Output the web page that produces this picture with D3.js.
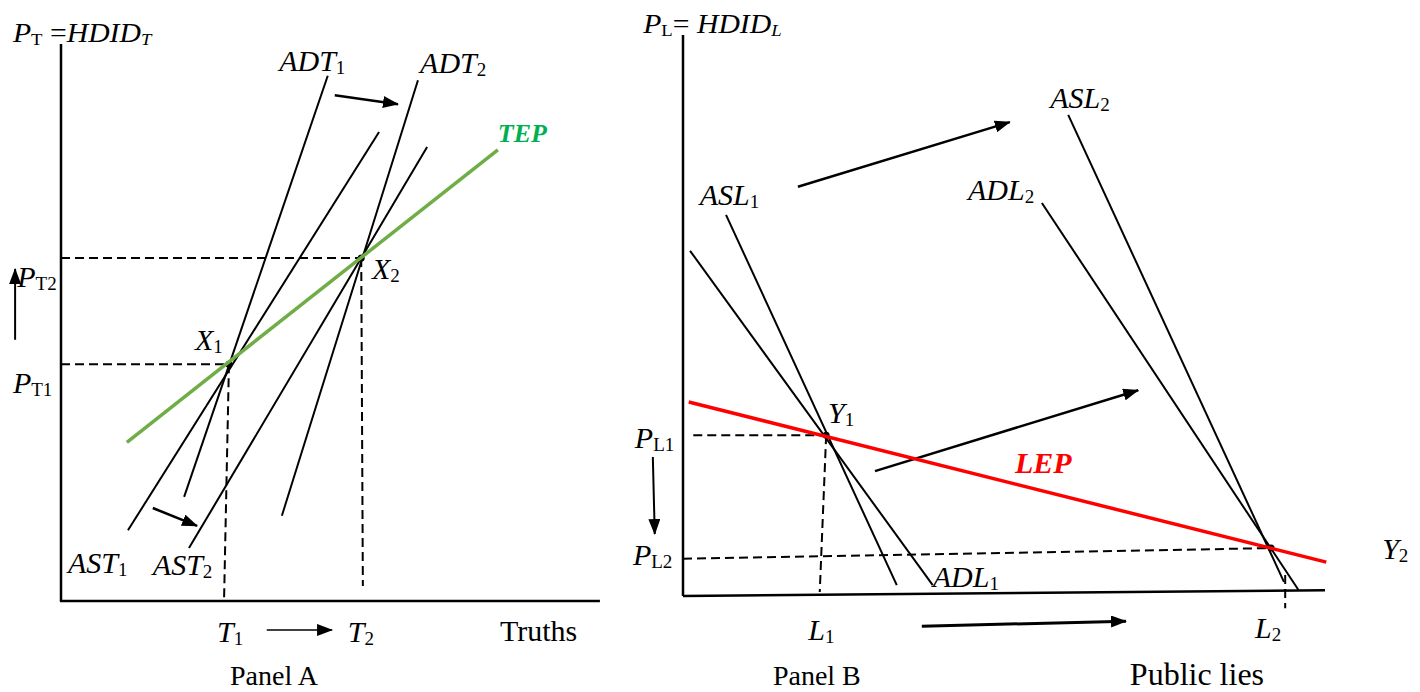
<!DOCTYPE html>
<html><head><meta charset="utf-8">
<script src="https://cdn.jsdelivr.net/npm/d3@7"></script>
<style>html,body{margin:0;padding:0;background:#fff;} svg{display:block;}</style>
</head><body>
<svg id="chart" width="1420" height="692"></svg>
<script>
// ---------------- DATA (abstract units, 0–100 on each panel's axes) ----------------
// Panel A — market for truths
const panelACurves = [
  {id:"ADT1", pts:[[49.4,94.3],[22.8,18.7]]},
  {id:"ADT2", pts:[[66.1,93.5],[40.9,15.3]]},
  {id:"AST1", pts:[[58.9,84.2],[12.4,12.7]]},
  {id:"AST2", pts:[[67.8,81.5],[23.7,9.5]]}
];
const panelATEP = [[12.2,28.5],[80.9,81.0]];
const panelAEquilibria = [{id:"X1", x:31.1, y:42.5}, {id:"X2", x:55.6, y:61.6}];
const panelAGuides = [
  [[0,61.6],[55.6,61.6]],
  [[0,42.5],[31.1,42.5]],
  [[31.1,42.5],[30.2,0.5]],
  [[55.6,61.6],[55.9,2.7]]
];
const panelAArrows = [
  {pts:[[50.7,90.8],[62.4,89.2]], w:2.5},
  {pts:[[17.0,16.7],[25.2,13.5]], w:2.5},
  {pts:[[-8.5,46.9],[-8.5,59.6]], w:2},
  {pts:[[38.1,-5.2],[50.2,-5.2]], w:1.5}
];
const panelALabels = [
  {parts:[["P","i"],["T","s"],[" =",""],["HDID","i"],["T","si"]], at:[-8.9,100.4], size:27, sx:1.1},
  {parts:[["ADT","i"],["1","s"]], at:[40.4,95.2]},
  {parts:[["ADT","i"],["2","s"]], at:[66.5,94.8]},
  {parts:[["X","i"],["1","s"]], at:[24.8,45.1]},
  {parts:[["X","i"],["2","s"]], at:[57.6,57.8]},
  {parts:[["P","i"],["T2","s"]], at:[-8.1,56.4]},
  {parts:[["P","i"],["T1","s"]], at:[-8.9,37.3]},
  {parts:[["AST","i"],["1","s"]], at:[1.3,5.0]},
  {parts:[["AST","i"],["2","s"]], at:[17.0,4.7]},
  {parts:[["T","i"],["1","s"]], at:[28.9,-7.4]},
  {parts:[["T","i"],["2","s"]], at:[53.1,-7.4]},
  {parts:[["Truths",""]], at:[81.3,-7.2]},
  {parts:[["Panel A",""]], at:[31.3,-15.1], size:28}
];
const panelATepLabel = {text:"TEP", at:[80.9,82.4]};

// Panel B — market for public lies
const panelBCurves = [
  {id:"ASL1", pts:[[6.7,68.0],[33.3,2.1]]},
  {id:"ADL1", pts:[[1.1,61.6],[38.9,2.1]]},
  {id:"ASL2", pts:[[60.0,85.8],[93.6,2.7]]},
  {id:"ADL2", pts:[[55.9,70.1],[95.9,1.2]]}
];
const panelBLEP = [[0.9,34.7],[100.2,6.2]];
const panelBEquilibria = [{id:"Y1", x:22.3, y:28.8}, {id:"Y2", x:91.6, y:8.7}];
const panelBGuides = [
  [[1.6,28.8],[22.3,28.8]],
  [[22.3,28.8],[21.3,0.9]],
  [[0,6.8],[91.6,8.7]],
  [[93.8,3.9],[93.8,-2.0]]
];
const panelBArrows = [
  {pts:[[17.9,73.0],[50.9,84.5]], w:2.5},
  {pts:[[29.9,22.4],[70.9,36.8]], w:2.5},
  {pts:[[37.2,-5.2],[69.0,-4.3]], w:3},
  {pts:[[-4.7,24.9],[-4.4,11.2]], w:2}
];
const panelBLabels = [
  {parts:[["P","i"],["L","s"],["= ",""],["HDID","i"],["L","si"]], at:[-6.2,100.4], size:27, sx:1.1},
  {parts:[["ASL","i"],["2","s"]], at:[57.2,87.0]},
  {parts:[["ASL","i"],["1","s"]], at:[2.6,69.8]},
  {parts:[["ADL","i"],["2","s"]], at:[44.4,70.6]},
  {parts:[["ADL","i"],["1","s"]], at:[38.9,1.8]},
  {parts:[["Y","i"],["1","s"]], at:[22.6,31.0]},
  {parts:[["Y","i"],["2","s"]], at:[108.9,6.8]},
  {parts:[["P","i"],["L1","s"]], at:[-7.5,26.5]},
  {parts:[["P","i"],["L2","s"]], at:[-7.8,5.7]},
  {parts:[["L","i"],["1","s"]], at:[19.5,-7.7]},
  {parts:[["L","i"],["2","s"]], at:[89.1,-7.3]},
  {parts:[["Panel B",""]], at:[14.0,-15.7], size:28},
  {parts:[["Public lies",""]], at:[69.6,-15.7], size:32}
];
const panelBLepLabel = {text:"LEP", at:[51.7,22.1]};

// ---------------- DRAWING ----------------
const FONT = "'Liberation Serif','Times New Roman',serif";
const svg = d3.select("#chart");

const defs = svg.append("defs");
defs.append("marker").attr("id","head")
  .attr("viewBox","0 0 16 12").attr("refX",15).attr("refY",6)
  .attr("markerWidth",16).attr("markerHeight",12)
  .attr("markerUnits","userSpaceOnUse").attr("orient","auto")
  .append("path").attr("d","M0,0 L16,6 L0,12 Z").attr("fill","#000");

const line = (x, y) => d3.line().x(d => x(d[0])).y(d => y(d[1]));

function drawLabel(g, px, py, parts, size, fill, sx) {
  size = size || 30;
  sx = sx || 1;
  const sub = Math.round(size * 0.64);
  const t = g.append("text")
    .attr("transform", `translate(${px},${py}) scale(${sx},1)`)
    .attr("font-family", FONT).attr("font-size", size)
    .attr("fill", fill || "#000").style("white-space","pre");
  let lowered = false;
  parts.forEach(([s, st]) => {
    const sp = t.append("tspan").text(s);
    const isSub = st.includes("s");
    if (st.includes("i")) sp.attr("font-style","italic");
    if (st.includes("b")) sp.attr("font-weight","bold");
    if (isSub) {
      sp.attr("font-size", sub);
      if (!lowered) { sp.attr("dy", 3); lowered = true; }
    } else if (lowered) { sp.attr("dy", -3); lowered = false; }
  });
}

function drawPanel(cfg) {
  const x = d3.scaleLinear().domain([0,100]).range(cfg.xr);
  const y = d3.scaleLinear().domain([0,100]).range(cfg.yr);
  const L = line(x, y);
  const g = svg.append("g");

  g.append("path").attr("d", L(cfg.yAxis)).attr("stroke","#000").attr("stroke-width",2.5).attr("fill","none");
  g.append("path").attr("d", L(cfg.xAxis)).attr("stroke","#000").attr("stroke-width",2.5).attr("fill","none");

  g.selectAll(".guide").data(cfg.guides).join("path")
    .attr("d", d => L(d)).attr("fill","none").attr("stroke","#000")
    .attr("stroke-width",2).attr("stroke-dasharray","9,5");

  g.selectAll(".curve").data(cfg.curves).join("path")
    .attr("d", d => L(d.pts)).attr("fill","none").attr("stroke","#000").attr("stroke-width",2);

  g.selectAll(".arrow").data(cfg.arrows).join("path")
    .attr("d", d => L(d.pts)).attr("fill","none").attr("stroke","#000")
    .attr("stroke-width", d => d.w).attr("marker-end","url(#head)");

  g.selectAll(".eq").data(cfg.eq).join("circle")
    .attr("cx", d => x(d.x)).attr("cy", d => y(d.y)).attr("r",3.5).attr("fill","#000");

  g.append("path").attr("d", L(cfg.path)).attr("fill","none")
    .attr("stroke", cfg.pathColor).attr("stroke-width",3.5);

  cfg.labels.forEach(l => drawLabel(g, x(l.at[0]), y(l.at[1]), l.parts, l.size, null, l.sx));
  drawLabel(g, x(cfg.pathLabel.at[0]), y(cfg.pathLabel.at[1]),
    [[cfg.pathLabel.text, "ib"]], cfg.pathLabelSize, cfg.pathLabelColor);
}

drawPanel({
  xr:[61,601], yr:[601,44],
  yAxis:[[0,0],[0,100]], xAxis:[[-0.2,0],[99.8,0]],
  curves:panelACurves, guides:panelAGuides, arrows:panelAArrows, eq:panelAEquilibria,
  path:panelATEP, pathColor:"#70ad47",
  labels:panelALabels, pathLabel:panelATepLabel, pathLabelSize:26, pathLabelColor:"#00b050"
});
drawPanel({
  xr:[683,1325], yr:[597,35],
  yAxis:[[0,0.2],[0,100]], xAxis:[[0,0.2],[100,1.2]],
  curves:panelBCurves, guides:panelBGuides, arrows:panelBArrows, eq:panelBEquilibria,
  path:panelBLEP, pathColor:"#ff0000",
  labels:panelBLabels, pathLabel:panelBLepLabel, pathLabelSize:30, pathLabelColor:"#ff0000"
});
</script>
</body></html>
